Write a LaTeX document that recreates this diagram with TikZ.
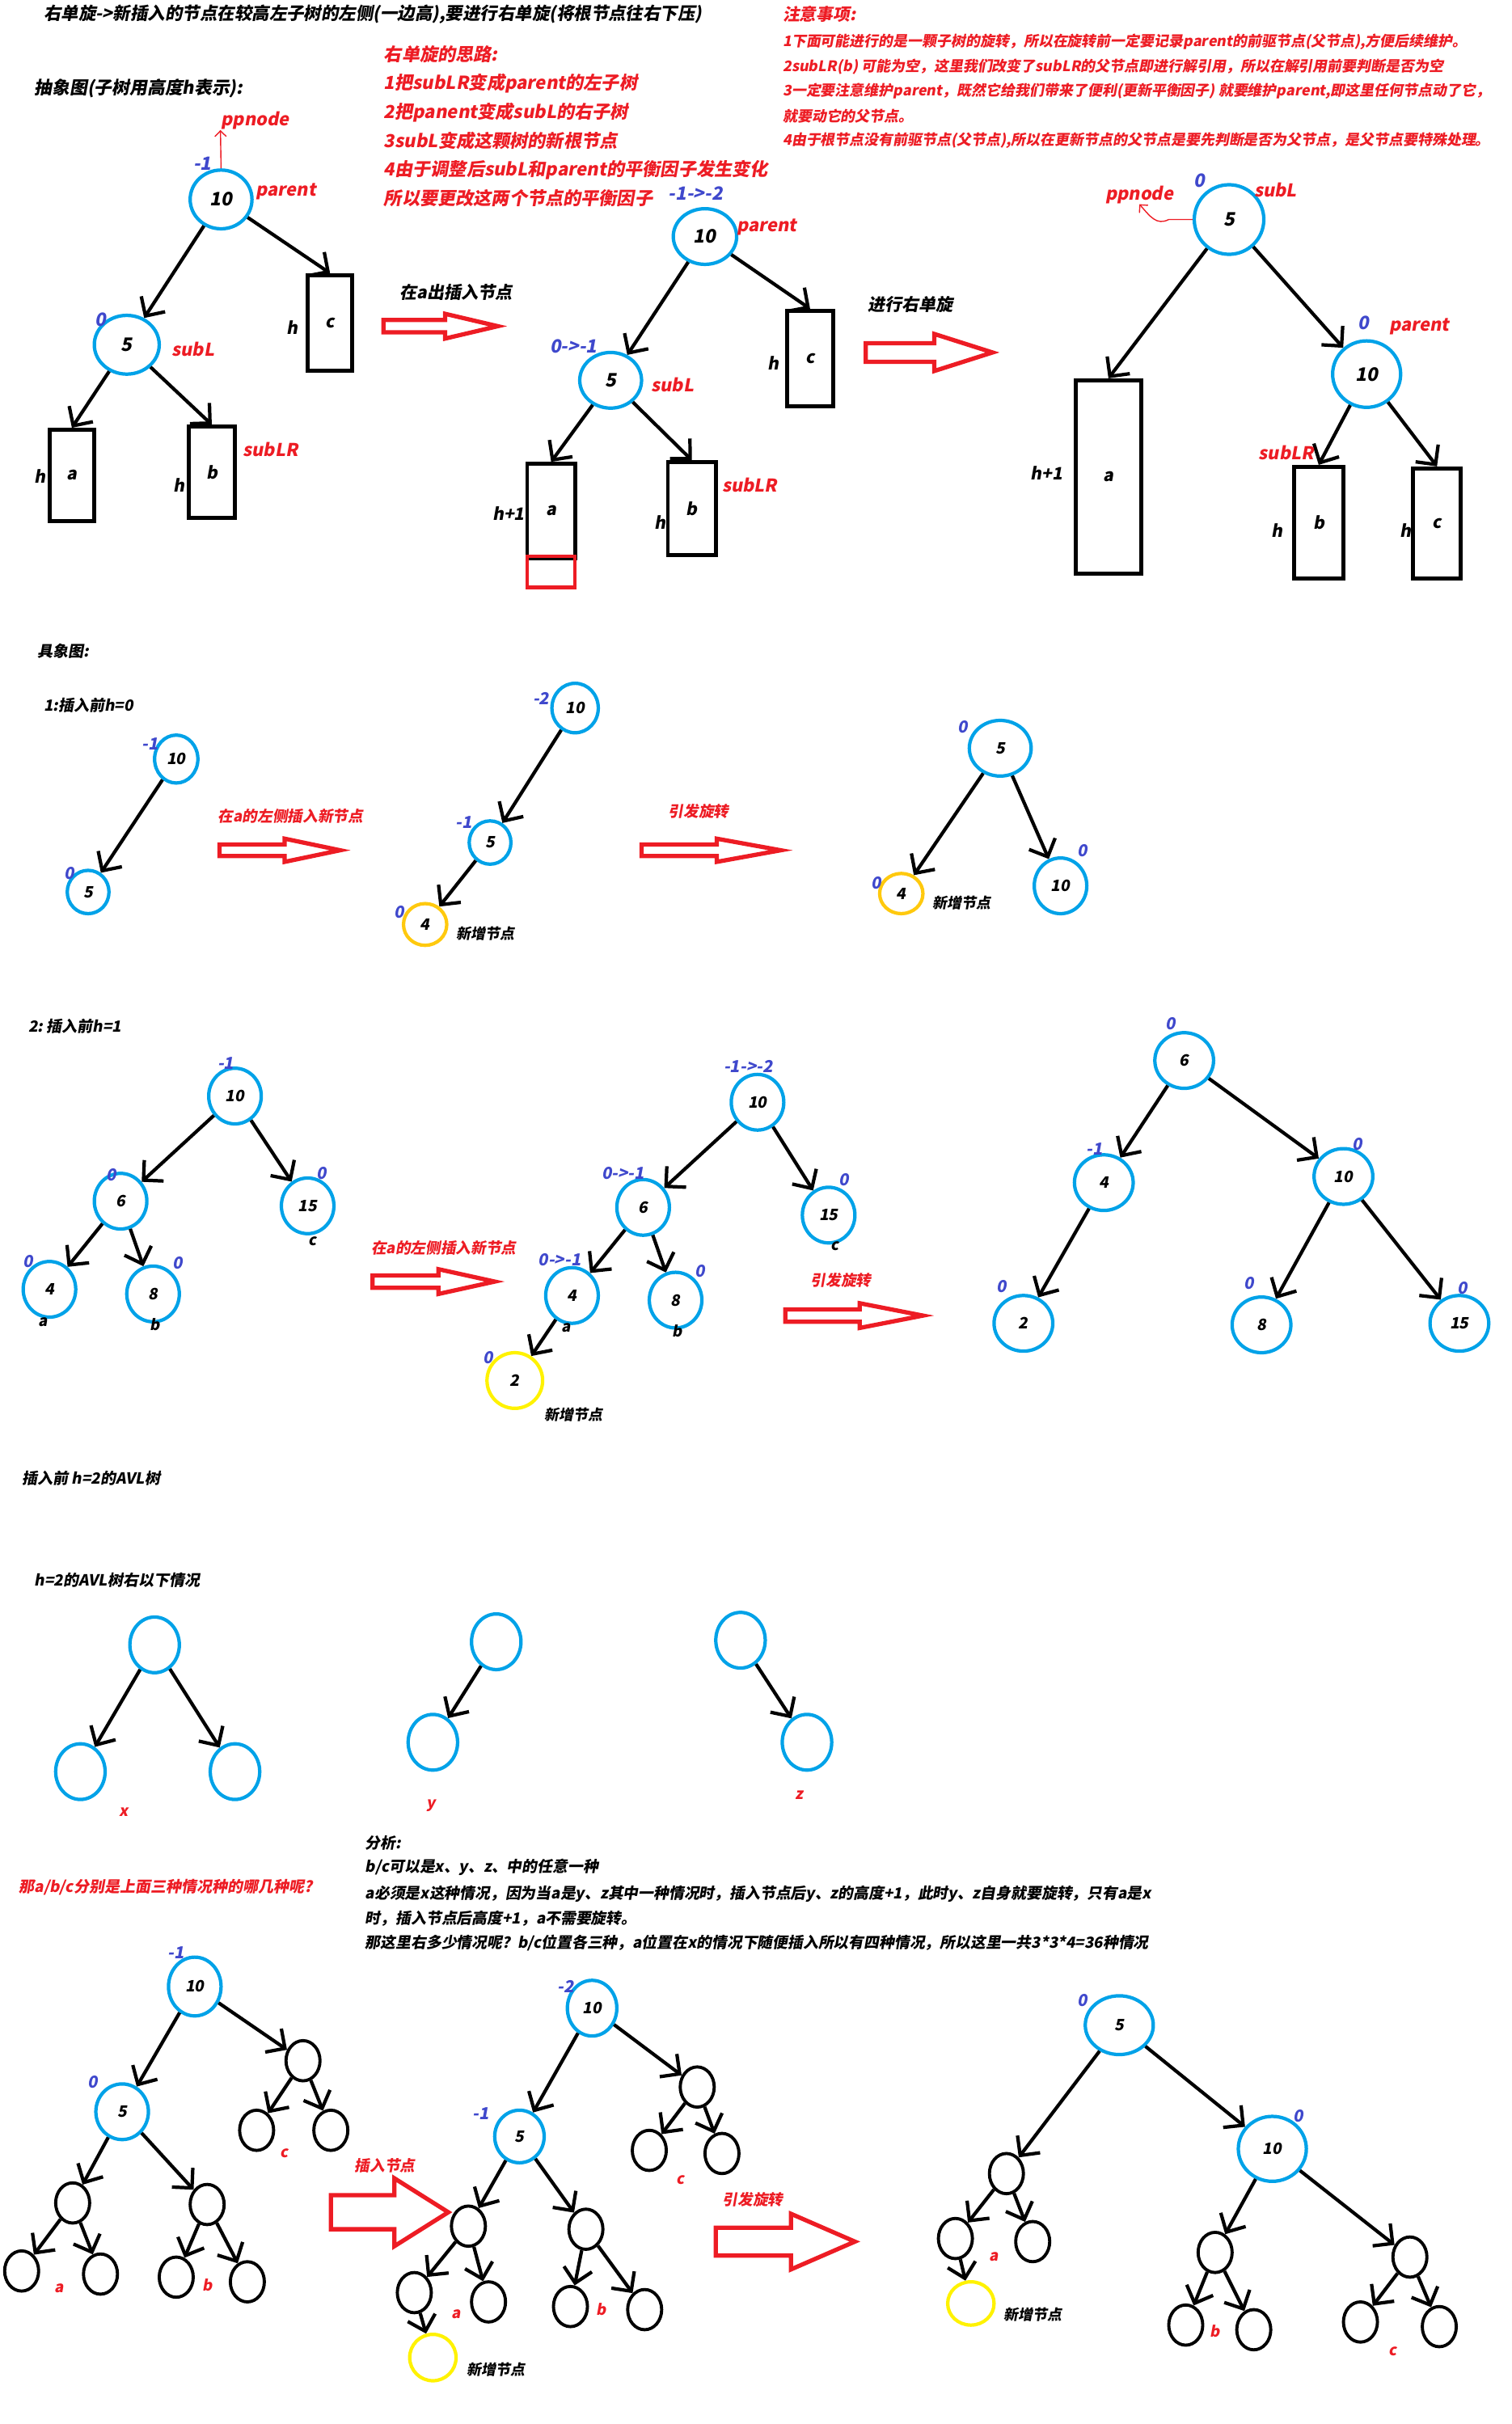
\documentclass[tikz,border=0pt]{standalone}
\usepackage{fontspec}
\setmainfont{Noto Sans CJK SC}[FakeSlant=0.18,BoldFeatures={FakeSlant=0.18}]
\usetikzlibrary{arrows.meta,shapes.geometric}
\definecolor{avlblue}{HTML}{00A2E8}
\definecolor{bfblue}{HTML}{3F48CC}
\definecolor{notered}{HTML}{ED1C24}
\definecolor{newgold}{HTML}{FFC90E}
\definecolor{newyellow}{HTML}{FFF200}
\newcommand{\px}{0.01911cm}
\newcommand{\setfs}[1]{\fontsize{#1}{#1}\selectfont\bfseries}
\tikzset{
  avl/.style 2 args = {ellipse, draw=avlblue, line width=1.2pt, inner sep=0pt,
                       minimum width=#1*\px, minimum height=#2*\px, font=\setfs{6}},
  newnode/.style 2 args = {avl={#1}{#2}, draw=newyellow},
  leaf/.style    = {ellipse, draw, line width=1.1pt, inner sep=0pt,
                    minimum width=22*\px, minimum height=26*\px},
  subtree/.style 2 args = {rectangle, draw, line width=1.4pt, inner sep=0pt,
                    minimum width=#1*\px, minimum height=#2*\px, font=\setfs{6}},
  link/.style    = {line width=1.2pt, -{Straight Barb[length=5pt,width=10pt]}},
  pparrow/.style = {draw=notered, line width=0.4pt, -{Straight Barb[length=2pt,width=4pt]}},
  bigarrow/.style= {draw=notered, line width=1.5pt, line join=miter},
  bf/.style      = {text=bfblue, inner sep=0pt, font=\setfs{6.4}},
  tag/.style     = {text=notered, inner sep=0pt, font=\setfs{6.2}},
  lbl/.style     = {inner sep=0pt, font=\setfs{6}},
  plain/.style   = {anchor=west, inner sep=0pt, font=\setfs{5.4}},
  note/.style    = {plain, text=notered},
}
\newcommand{\hollowarrow}[4]{%
  \draw[bigarrow] (#1,#2-#4/2) -- (#1+0.54*#3,#2-#4/2) -- (#1+0.54*#3,#2-#4)
    -- (#1+#3,#2) -- (#1+0.54*#3,#2+#4) -- (#1+0.54*#3,#2+#4/2) -- (#1,#2+#4/2) -- cycle;}

\begin{document}
\begin{tikzpicture}[x=0.01911cm,y=-0.01911cm]
\useasboundingbox (0,0) rectangle (978,1568);
% ---- headings and notes ----
\node[plain,font=\setfs{6.1}] (title) at (28,9) {右单旋->新插入的节点在较高左子树的左侧(一边高),要进行右单旋(将根节点往右下压)};
\node[plain,font=\setfs{6.2}] (abst) at (22,57) {抽象图(子树用高度h表示):};
\node[note,font=\setfs{6.3}] (idea0) at (248,35) {右单旋的思路:};
\node[note,font=\setfs{6.3}] (idea1) at (248,54) {1把subLR变成parent的左子树};
\node[note,font=\setfs{6.3}] (idea2) at (248,73) {2把panent变成subL的右子树};
\node[note,font=\setfs{6.3}] (idea3) at (248,91) {3subL变成这颗树的新根节点};
\node[note,font=\setfs{6.3}] (idea4) at (248,110) {4由于调整后subL和parent的平衡因子发生变化};
\node[note,font=\setfs{6.3}] (idea5) at (248,128) {所以要更改这两个节点的平衡因子};
\node[note,font=\setfs{5.9}] (warn0) at (506,9) {注意事项:};
\node[note,font=\setfs{5.1}] (warn1) at (506,27) {1下面可能进行的是一颗子树的旋转，所以在旋转前一定要记录parent的前驱节点(父节点),方便后续维护。};
\node[note,font=\setfs{5.1}] (warn2) at (506,43) {2subLR(b)\ 可能为空，这里我们改变了subLR的父节点即进行解引用，所以在解引用前要判断是否为空};
\node[note,font=\setfs{5.1}] (warn3) at (506,59) {3一定要注意维护parent，既然它给我们带来了便利(更新平衡因子)\ 就要维护parent,即这里任何节点动了它，};
\node[note,font=\setfs{5.1}] (warn4) at (506,75) {就要动它的父节点。};
\node[note,font=\setfs{5.1}] (warn5) at (506,91) {4由于根节点没有前驱节点(父节点),所以在更新节点的父节点是要先判断是否为父节点，是父节点要特殊处理。};
% ---- abstract: before insertion ----
\node[avl={40}{38},font=\setfs{6.5}] (P1) at (143,129) {10};
\node[avl={42}{38},font=\setfs{6.5}] (S1) at (82,223) {5};
\node[subtree={29}{62}] (C1) at (213.5,209) {c};
\node[subtree={29}{59}] (A1) at (46.5,307.5) {a};
\node[subtree={30}{59}] (B1) at (137,305.5) {b};
\draw[link] (P1) -- (S1);
\draw[link] (P1) -- (C1.north);
\draw[link] (S1) -- (A1.north);
\draw[link] (S1) -- (B1.north);
\node[tag] (pp1) at (165,78) {ppnode};
\draw[pparrow] (P1.north) -- (pp1.south west);
\node[bf] (bfP1) at (131,106) {-1};
\node[tag] (nmP1) at (185,124) {parent};
\node[bf] (bfS1) at (65,207) {0};
\node[tag] (nmS1) at (125,226) {subL};
\node[tag] (nmB1) at (175,291) {subLR};
\node[lbl] (hC1) at (189,212) {h};
\node[lbl] (hA1) at (26,308) {h};
\node[lbl] (hB1) at (116,314) {h};
\hollowarrow{248}{211}{74}{8}
\node[lbl] (step1) at (295,189) {在a出插入节点};
% ---- abstract: after insertion ----
\node[avl={41}{36},font=\setfs{6.5}] (P2) at (456,153) {10};
\node[avl={40}{36},font=\setfs{6.5}] (S2) at (395,246) {5};
\node[subtree={30}{62}] (C2) at (524,232) {c};
\node[subtree={31}{61}] (A2) at (356.5,330.5) {a};
\node[subtree={31}{60}] (B2) at (447.5,329) {b};
\node[draw=notered,line width=1.2pt,minimum width=31*\px,minimum height=20*\px,inner sep=0pt] (X2) at (356.5,370) {};
\draw[link] (P2) -- (S2);
\draw[link] (P2) -- (C2.north);
\draw[link] (S2) -- (A2.north);
\draw[link] (S2) -- (B2.north);
\node[bf] (bfP2) at (450,125) {-1->-2};
\node[tag] (nmP2) at (496,147) {parent};
\node[bf] (bfS2) at (371,224) {0->-1};
\node[tag] (nmS2) at (435,249) {subL};
\node[tag] (nmB2) at (485,314) {subLR};
\node[lbl] (hC2) at (500,235) {h};
\node[lbl] (hA2) at (329,332) {h+1};
\node[lbl] (hB2) at (427,338) {h};
\hollowarrow{560}{228}{82}{12}
\node[lbl] (step2) at (589,197) {进行右单旋};
% ---- abstract: after rotation ----
\node[avl={45}{45},font=\setfs{6.5}] (R5) at (795,142) {5};
\node[avl={44}{43},font=\setfs{6.5}] (R10) at (884,242) {10};
\node[subtree={42}{125}] (A3) at (717,308.5) {a};
\node[subtree={32}{72}] (B3) at (853,338) {b};
\node[subtree={31}{71}] (C3) at (929.5,338.5) {c};
\draw[link] (R5) -- (A3.north);
\draw[link] (R5) -- (R10);
\draw[link] (R10) -- (B3.north);
\draw[link] (R10) -- (C3.north);
\node[tag] (pp3) at (737,126) {ppnode};
\draw[pparrow] (R5.west) -- (756,142) .. controls (748,146) and (744,140) .. (pp3.south);
\node[bf] (bfR5) at (776,117) {0};
\node[tag] (nmR5) at (825,123) {subL};
\node[bf] (bfR10) at (882,209) {0};
\node[tag] (nmR10) at (918,211) {parent};
\node[tag] (nmB3) at (832,293) {subLR};
\node[lbl] (hA3) at (677,306) {h+1};
\node[lbl] (hB3) at (826,343) {h};
\node[lbl] (hC3) at (909,343) {h};
% ---- concrete, h=0 ----
\node[plain] (concrete) at (24,421) {具象图:};
\node[plain] (case1) at (28,456) {1:插入前h=0};
\node[avl={28}{31},font=\setfs{5.5}] (Q10) at (114,491) {10};
\node[avl={27}{28},font=\setfs{5.5}] (Q5) at (57,577) {5};
\draw[link] (Q10) -- (Q5);
\node[bf,font=\setfs{5.8}] (bfQ10) at (97,481) {-1};
\node[bf,font=\setfs{5.8}] (bfQ5) at (45,565) {0};
\hollowarrow{142}{550}{78}{7.5}
\node[tag,font=\setfs{5.3}] (ins1) at (188,528) {在a的左侧插入新节点};
\node[avl={30}{32},font=\setfs{5.5}] (W10) at (372,458) {10};
\node[avl={27}{28},font=\setfs{5.5}] (W5) at (317,545) {5};
\node[newnode={28}{27},draw=newgold,font=\setfs{5.5}] (W4) at (275,598) {4};
\draw[link] (W10) -- (W5);
\draw[link] (W5) -- (W4);
\node[bf,font=\setfs{5.8}] (bfW10) at (350,452) {-2};
\node[bf,font=\setfs{5.8}] (bfW5) at (300,532) {-1};
\node[bf,font=\setfs{5.8}] (bfW4) at (258,590) {0};
\node[lbl,font=\setfs{5.1}] (newW4) at (314,604) {新增节点};
\hollowarrow{415}{550}{90}{7.5}
\node[tag,font=\setfs{5.3}] (rot1) at (452,525) {引发旋转};
\node[avl={40}{36},font=\setfs{5.5}] (E5) at (647,484) {5};
\node[newnode={28}{26},draw=newgold,font=\setfs{5.5}] (E4) at (583,578) {4};
\node[avl={34}{36},font=\setfs{5.5}] (E10) at (686,573) {10};
\draw[link] (E5) -- (E4);
\draw[link] (E5) -- (E10);
\node[bf,font=\setfs{5.8}] (bfE5) at (623,470) {0};
\node[bf,font=\setfs{5.8}] (bfE4) at (567,571) {0};
\node[bf,font=\setfs{5.8}] (bfE10) at (700,550) {0};
\node[lbl,font=\setfs{5.1}] (newE4) at (622,584) {新增节点};
% ---- concrete, h=1 ----
\node[plain] (case2) at (18,664) {2:\ 插入前h=1};
\node[avl={34}{36},font=\setfs{5.5}] (F10) at (152,709) {10};
\node[avl={34}{36},font=\setfs{5.5}] (F6) at (78,777) {6};
\node[avl={34}{36},font=\setfs{5.5}] (F15) at (199,780) {15};
\node[avl={34}{36},font=\setfs{5.5}] (F4) at (32,834) {4};
\node[avl={34}{36},font=\setfs{5.5}] (F8) at (99,837) {8};
\draw[link] (F10) -- (F6);
\draw[link] (F10) -- (F15);
\draw[link] (F6) -- (F4);
\draw[link] (F6) -- (F8);
\node[bf,font=\setfs{5.8}] (bfF10) at (146,688) {-1};
\node[bf,font=\setfs{5.8}] (bfF6) at (72,760) {0};
\node[bf,font=\setfs{5.8}] (bfF15) at (208,759) {0};
\node[bf,font=\setfs{5.8}] (bfF4) at (18,816) {0};
\node[bf,font=\setfs{5.8}] (bfF8) at (115,817) {0};
\node[lbl,font=\setfs{5.3}] (cF15) at (202,803) {c};
\node[lbl,font=\setfs{5.3}] (aF4) at (28,855) {a};
\node[lbl,font=\setfs{5.3}] (bF8) at (100,857) {b};
\hollowarrow{241}{829}{79}{8}
\node[tag,font=\setfs{5.3}] (ins2) at (287,807) {在a的左侧插入新节点};
\node[avl={34}{36},font=\setfs{5.5}] (G10) at (490,713) {10};
\node[avl={34}{36},font=\setfs{5.5}] (G6) at (416,781) {6};
\node[avl={34}{36},font=\setfs{5.5}] (G15) at (536,786) {15};
\node[avl={34}{36},font=\setfs{5.5}] (G4) at (370,838) {4};
\node[avl={34}{36},font=\setfs{5.5}] (G8) at (437,841) {8};
\node[newnode={36}{36},font=\setfs{5.5}] (G2) at (333,893) {2};
\draw[link] (G10) -- (G6);
\draw[link] (G10) -- (G15);
\draw[link] (G6) -- (G4);
\draw[link] (G6) -- (G8);
\draw[link] (G4) -- (G2);
\node[bf,font=\setfs{5.8}] (bfG10) at (484,690) {-1->-2};
\node[bf,font=\setfs{5.8}] (bfG6) at (403,759) {0->-1};
\node[bf,font=\setfs{5.8}] (bfG15) at (546,763) {0};
\node[bf,font=\setfs{5.8}] (bfG4) at (362,815) {0->-1};
\node[bf,font=\setfs{5.8}] (bfG8) at (453,822) {0};
\node[bf,font=\setfs{5.8}] (bfG2) at (316,878) {0};
\node[lbl,font=\setfs{5.3}] (cG15) at (540,806) {c};
\node[lbl,font=\setfs{5.3}] (aG4) at (366,859) {a};
\node[lbl,font=\setfs{5.3}] (bG8) at (438,861) {b};
\node[lbl,font=\setfs{5.1}] (newG2) at (371,915) {新增节点};
\hollowarrow{508}{851}{89}{8}
\node[tag,font=\setfs{5.3}] (rot2) at (544,828) {引发旋转};
\node[avl={38}{36},font=\setfs{5.5}] (H6) at (766,686) {6};
\node[avl={38}{36},font=\setfs{5.5}] (H4) at (714,765) {4};
\node[avl={38}{36},font=\setfs{5.5}] (H10) at (869,761) {10};
\node[avl={38}{36},font=\setfs{5.5}] (H2) at (662,856) {2};
\node[avl={38}{36},font=\setfs{5.5}] (H8) at (816,857) {8};
\node[avl={38}{36},font=\setfs{5.5}] (H15) at (944,856) {15};
\draw[link] (H6) -- (H4);
\draw[link] (H6) -- (H10);
\draw[link] (H4) -- (H2);
\draw[link] (H10) -- (H8);
\draw[link] (H10) -- (H15);
\node[bf,font=\setfs{5.8}] (bfH6) at (757,662) {0};
\node[bf,font=\setfs{5.8}] (bfH4) at (708,743) {-1};
\node[bf,font=\setfs{5.8}] (bfH10) at (878,740) {0};
\node[bf,font=\setfs{5.8}] (bfH2) at (648,832) {0};
\node[bf,font=\setfs{5.8}] (bfH8) at (808,830) {0};
\node[bf,font=\setfs{5.8}] (bfH15) at (946,833) {0};
% ---- h=2 shapes ----
\node[plain] (case3) at (14,956) {插入前\ h=2的AVL树};
\node[plain] (shapes) at (22,1022) {h=2的AVL树右以下情况};
\node[avl={32}{36}] (XR) at (100,1064) {};
\node[avl={32}{36}] (XL) at (52,1146) {};
\node[avl={32}{36}] (XRR) at (152,1146) {};
\draw[link] (XR) -- (XL);
\draw[link] (XR) -- (XRR);
\node[tag,font=\setfs{5.3}] (nmX) at (80,1172) {x};
\node[avl={32}{36}] (YR) at (321,1062) {};
\node[avl={32}{36}] (YL) at (280,1127) {};
\draw[link] (YR) -- (YL);
\node[tag,font=\setfs{5.3}] (nmY) at (279,1168) {y};
\node[avl={32}{36}] (ZR) at (479,1061) {};
\node[avl={32}{36}] (ZC) at (522,1127) {};
\draw[link] (ZR) -- (ZC);
\node[tag,font=\setfs{5.3}] (nmZ) at (517,1161) {z};
\node[plain,font=\setfs{5.35}] (ana0) at (236,1192) {分析:};
\node[plain,font=\setfs{5.35}] (ana1) at (236,1208) {b/c可以是x、y、z、中的任意一种};
\node[plain,font=\setfs{5.35}] (ana2) at (236,1225) {a必须是x这种情况，因为当a是y、z其中一种情况时，插入节点后y、z的高度+1，此时y、z自身就要旋转，只有a是x};
\node[plain,font=\setfs{5.35}] (ana3) at (236,1241) {时，插入节点后高度+1，a不需要旋转。};
\node[plain,font=\setfs{5.35}] (ana4) at (236,1257) {那这里右多少情况呢？b/c位置各三种，a位置在x的情况下随便插入所以有四种情况，所以这里一共3*3*4=36种情况};
\node[note,font=\setfs{5.4}] (quest) at (12,1221) {那a/b/c分别是上面三种情况种的哪几种呢?};
% ---- h=2: before insertion ----
\node[avl={34}{38},font=\setfs{5.5}] (K10) at (126,1285) {10};
\node[avl={34}{36},font=\setfs{5.5}] (K5) at (79,1366) {5};
\node[leaf] (KR) at (196,1333) {};
\node[leaf] (KR1) at (166,1378) {};
\node[leaf] (KR2) at (214,1378) {};
\node[leaf] (KL) at (47,1425) {};
\node[leaf] (KM) at (134,1426) {};
\node[leaf] (KL1) at (14,1469) {};
\node[leaf] (KL2) at (65,1471) {};
\node[leaf] (KM1) at (114,1473) {};
\node[leaf] (KM2) at (160,1476) {};
\draw[link] (K10) -- (K5);
\draw[link] (K10) -- (KR);
\draw[link] (KR) -- (KR1);
\draw[link] (KR) -- (KR2);
\draw[link] (K5) -- (KL);
\draw[link] (K5) -- (KM);
\draw[link] (KL) -- (KL1);
\draw[link] (KL) -- (KL2);
\draw[link] (KM) -- (KM1);
\draw[link] (KM) -- (KM2);
\node[bf,font=\setfs{5.8}] (bfK10) at (114,1263) {-1};
\node[bf,font=\setfs{5.8}] (bfK5) at (60,1347) {0};
\node[tag,font=\setfs{5.3}] (cK) at (184,1393) {c};
\node[tag,font=\setfs{5.3}] (aK) at (38,1480) {a};
\node[tag,font=\setfs{5.3}] (bK) at (134,1478) {b};
\hollowarrow{214}{1431}{76}{22}
\node[tag,font=\setfs{5.3}] (ins3) at (249,1401) {插入节点};
% ---- h=2: after insertion ----
\node[avl={32}{36},font=\setfs{5.5}] (M10) at (383,1299) {10};
\node[avl={32}{34},font=\setfs{5.5}] (M5) at (336,1382) {5};
\node[leaf] (MR) at (451,1350) {};
\node[leaf] (MR1) at (420,1391) {};
\node[leaf] (MR2) at (467,1393) {};
\node[leaf] (ML) at (303,1440) {};
\node[leaf] (MM) at (379,1442) {};
\node[leaf] (ML1) at (268,1483) {};
\node[leaf] (ML2) at (316,1489) {};
\node[leaf] (MM1) at (369,1492) {};
\node[leaf] (MM2) at (417,1494) {};
\node[newnode={30}{30}] (MN) at (280,1525) {};
\draw[link] (M10) -- (M5);
\draw[link] (M10) -- (MR);
\draw[link] (MR) -- (MR1);
\draw[link] (MR) -- (MR2);
\draw[link] (M5) -- (ML);
\draw[link] (M5) -- (MM);
\draw[link] (ML) -- (ML1);
\draw[link] (ML) -- (ML2);
\draw[link] (MM) -- (MM1);
\draw[link] (MM) -- (MM2);
\draw[link] (ML1) -- (MN);
\node[bf,font=\setfs{5.8}] (bfM10) at (366,1285) {-2};
\node[bf,font=\setfs{5.8}] (bfM5) at (311,1367) {-1};
\node[tag,font=\setfs{5.3}] (cM) at (440,1410) {c};
\node[tag,font=\setfs{5.3}] (aM) at (295,1497) {a};
\node[tag,font=\setfs{5.3}] (bM) at (389,1494) {b};
\node[lbl,font=\setfs{5.1}] (newMN) at (321,1533) {新增节点};
\hollowarrow{463}{1450}{90}{18}
\node[tag,font=\setfs{5.3}] (rot3) at (487,1423) {引发旋转};
% ---- h=2: after rotation ----
\node[avl={44}{38},font=\setfs{5.5}] (N5) at (724,1310) {5};
\node[avl={44}{42},font=\setfs{5.5}] (N10) at (823,1390) {10};
\node[leaf] (NL) at (651,1406) {};
\node[leaf] (NL1) at (618,1448) {};
\node[leaf] (NL2) at (668,1450) {};
\node[newnode={30}{28}] (NN) at (628,1490) {};
\node[leaf] (NA) at (786,1457) {};
\node[leaf] (NB) at (912,1460) {};
\node[leaf] (NA1) at (767,1504) {};
\node[leaf] (NA2) at (811,1507) {};
\node[leaf] (NB1) at (880,1502) {};
\node[leaf] (NB2) at (931,1505) {};
\draw[link] (N5) -- (NL);
\draw[link] (N5) -- (N10);
\draw[link] (NL) -- (NL1);
\draw[link] (NL) -- (NL2);
\draw[link] (NL1) -- (NN);
\draw[link] (N10) -- (NA);
\draw[link] (N10) -- (NB);
\draw[link] (NA) -- (NA1);
\draw[link] (NA) -- (NA2);
\draw[link] (NB) -- (NB1);
\draw[link] (NB) -- (NB2);
\node[bf,font=\setfs{5.8}] (bfN5) at (700,1294) {0};
\node[bf,font=\setfs{5.8}] (bfN10) at (840,1369) {0};
\node[tag,font=\setfs{5.3}] (aN) at (643,1460) {a};
\node[tag,font=\setfs{5.3}] (bN) at (786,1508) {b};
\node[tag,font=\setfs{5.3}] (cN) at (901,1521) {c};
\node[lbl,font=\setfs{5.1}] (newNN) at (668,1497) {新增节点};
\end{tikzpicture}
\end{document}
